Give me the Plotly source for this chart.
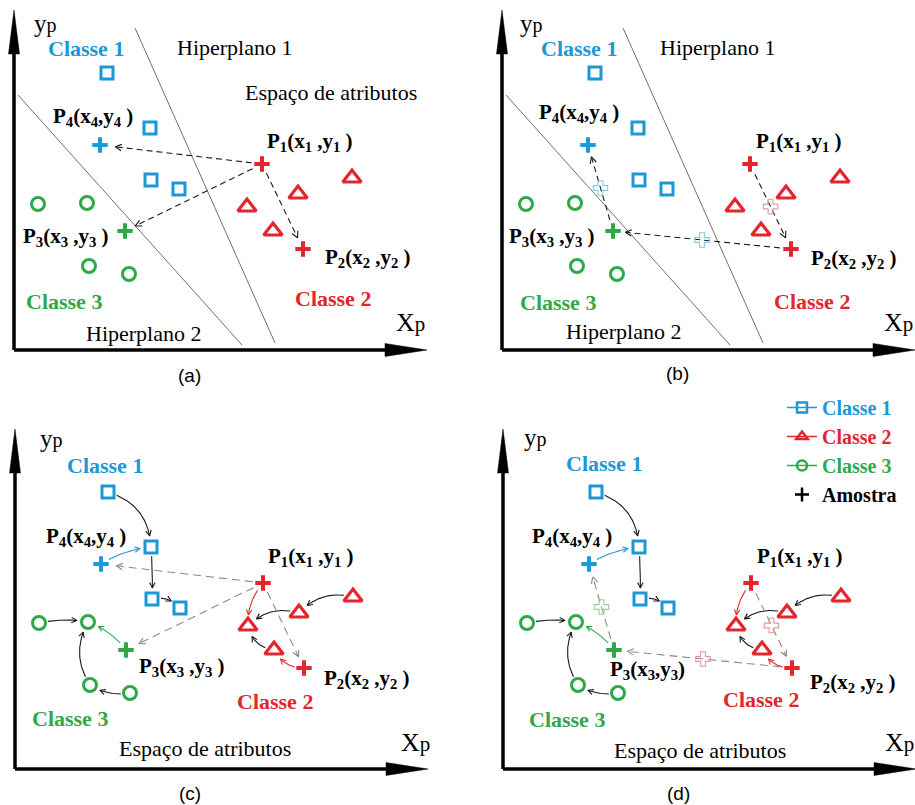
import numpy as np
import plotly.graph_objects as go

W, H = 915, 805

# ---------------- data: positions in the attribute space (x_p, y_p) ----------------
classe1_x = [93, 136, 137, 165]
classe1_y = [277, 222, 170, 161]
classe2_x = [338, 284, 233, 259]
classe2_y = [172, 156, 143, 119]
classe3_x = [24, 73, 75, 115]
classe3_y = [146, 147, 84, 76]

amostra_nomes = ["P1", "P2", "P3", "P4"]
amostra_x = [248, 289, 111, 86]
amostra_y = [186, 101, 119, 205]

hiperplano1_x = [121, 261]
hiperplano1_y = [322, 7]
hiperplano2_x = [4, 228]
hiperplano2_y = [255, 5]

# ---------------- styles ----------------
BLUE, RED, GREEN = "#1b98d5", "#e3262d", "#2fa84a"
BLUE_L, RED_L, GREEN_L = "#86c8ea", "#e79898", "#93d09f"
INK, GRAY = "#1a1a1a", "#8a8a8a"
SERIF, SANS = "Liberation Serif", "Liberation Sans"
EIXO_X, EIXO_Y = 413, 340

# panel frames: pixel box and where the axis origin sits
PANELS = {
    "a": dict(px=(0, 460), py=(0, 400), origin=(14, 350)),
    "b": dict(px=(460, 915), py=(0, 400), origin=(502, 350)),
    "c": dict(px=(0, 460), py=(400, 805), origin=(15, 769)),
    "d": dict(px=(460, 915), py=(400, 805), origin=(503, 769)),
}

fig = go.Figure()
AX = {}
layout_axes = {}
for i, (k, p) in enumerate(PANELS.items(), start=1):
    s = "" if i == 1 else str(i)
    ox, oy = p["origin"]
    x0, x1 = p["px"]
    y0, y1 = p["py"]
    AX[k] = ("x" + s, "y" + s)
    layout_axes["xaxis" + s] = dict(domain=[x0 / W, x1 / W], range=[x0 - ox, x1 - ox],
                                    visible=False, anchor="y" + s, fixedrange=True)
    layout_axes["yaxis" + s] = dict(domain=[(H - y1) / H, (H - y0) / H], range=[oy - y1, oy - y0],
                                    visible=False, anchor="x" + s, fixedrange=True)


def add(k, **kw):
    xa, ya = AX[k]
    kw.setdefault("showlegend", False)
    kw.setdefault("hoverinfo", "skip")
    fig.add_trace(go.Scatter(xaxis=xa, yaxis=ya, **kw))


def texto(k, x, y, s, size=22, color="black", bold=False, family=SERIF):
    xa, ya = AX[k]
    fig.add_annotation(x=x, y=y, xref=xa, yref=ya, text=f"<b>{s}</b>" if bold else s,
                       showarrow=False, xanchor="center", yanchor="middle",
                       font=dict(family=family, size=size, color=color))


def ponto(nome):
    grupo, i = nome
    if grupo == "C1":
        return (classe1_x[i], classe1_y[i])
    if grupo == "C2":
        return (classe2_x[i], classe2_y[i])
    if grupo == "C3":
        return (classe3_x[i], classe3_y[i])
    j = amostra_nomes.index(grupo)
    return (amostra_x[j], amostra_y[j])


def caminho(p0, p1, bend, r0, r1, n=160):
    p0 = np.asarray(p0, float)
    p1 = np.asarray(p1, float)
    d = p1 - p0
    L = np.hypot(*d)
    u = d / L
    c = (p0 + p1) / 2 + bend * L * np.array([-u[1], u[0]])
    t = np.linspace(0, 1, n)[:, None]
    pts = (1 - t) ** 2 * p0 + 2 * (1 - t) * t * c + t ** 2 * p1
    keep = (np.hypot(*(pts - p0).T) >= r0) & (np.hypot(*(pts - p1).T) >= r1)
    return pts[keep]


def ponta(pts, size=7.0, ang=27):
    tip = pts[-1]
    back = pts[max(0, len(pts) - 6)]
    u = (tip - back) / np.hypot(*(tip - back))
    out = []
    for a in (ang, -ang):
        r = np.radians(a)
        v = np.array([u[0] * np.cos(r) - u[1] * np.sin(r), u[0] * np.sin(r) + u[1] * np.cos(r)])
        out.append(tip - size * v)
    return [out[0][0], tip[0], out[1][0]], [out[0][1], tip[1], out[1][1]]


def seta(k, a, b, bend=0.0, color=INK, dash=None, width=1.1, r0=10, r1=12, head=7.0):
    pts = caminho(ponto(a), ponto(b), bend, r0, r1)
    add(k, x=pts[:, 0], y=pts[:, 1], mode="lines",
        line=dict(color=color, width=width, dash=dash or "solid"))
    hx, hy = ponta(pts, head)
    add(k, x=hx, y=hy, mode="lines", line=dict(color=color, width=width))


def meio(k, a, b, color):
    p0, p1 = np.array(ponto(a)), np.array(ponto(b))
    m = (p0 + p1) / 2
    add(k, x=[m[0]], y=[m[1]], mode="markers",
        marker=dict(symbol="cross-open", size=12, color=color, line=dict(width=1.1, color=color)))


def eixos(k):
    add(k, x=[0, 0, None, 0, EIXO_X - 30], y=[EIXO_Y - 30, 0, None, 0, 0], mode="lines",
        line=dict(color="black", width=3.5))
    add(k, x=[-5.5, 0, 5.5, -5.5], y=[EIXO_Y - 44, EIXO_Y, EIXO_Y - 44, EIXO_Y - 44],
        mode="lines", fill="toself", fillcolor="black", line=dict(color="black", width=0.5))
    add(k, x=[EIXO_X - 42, EIXO_X, EIXO_X - 42, EIXO_X - 42], y=[-6.5, 0, 6.5, -6.5],
        mode="lines", fill="toself", fillcolor="black", line=dict(color="black", width=0.5))


def pontos(k):
    add(k, x=classe1_x, y=classe1_y, mode="markers",
        marker=dict(symbol="square-open", size=12, color=BLUE, line=dict(width=3, color=BLUE)))
    add(k, x=classe2_x, y=classe2_y, mode="markers",
        marker=dict(symbol="triangle-up-open", size=16, color=RED, line=dict(width=3.2, color=RED)))
    add(k, x=classe3_x, y=classe3_y, mode="markers",
        marker=dict(symbol="circle-open", size=13, color=GREEN, line=dict(width=3, color=GREEN)))
    cores = [RED, RED, GREEN, BLUE]
    add(k, x=amostra_x, y=amostra_y, mode="markers",
        marker=dict(symbol="cross-thin", size=11, color=cores, line=dict(width=4, color=cores)))


ROT = {
    "P1": "P<sub>1</sub>(x<sub>1</sub> ,y<sub>1</sub> )",
    "P2": "P<sub>2</sub>(x<sub>2</sub> ,y<sub>2</sub> )",
    "P3": "P<sub>3</sub>(x<sub>3</sub> ,y<sub>3</sub> )",
    "P3d": "P<sub>3</sub>(x<sub>3</sub>,y<sub>3</sub>)",
    "P4": "P<sub>4</sub>(x<sub>4</sub>,y<sub>4</sub> )",
}
YP = 'y<span style="font-size:20px">p</span>'
XP = 'X<span style="font-size:21px">p</span>'

# ---------------- (a) and (b): hyperplanes ----------------
for k in ("a", "b"):
    add(k, x=hiperplano1_x, y=hiperplano1_y, mode="lines", line=dict(color="#6f6f6f", width=1))
    add(k, x=hiperplano2_x, y=hiperplano2_y, mode="lines", line=dict(color="#6f6f6f", width=1))

# (a): distances from P1 to the other samples
for alvo, r1 in (("P4", 15), ("P3", 11), ("P2", 12)):
    seta("a", ("P1", 0), (alvo, 0), dash="6px,4px", r0=10, r1=r1)

# (b): chain P1 -> P2 -> P3 -> P4 with intermediate samples
for (a, b), cor in zip([("P1", "P2"), ("P2", "P3"), ("P3", "P4")], [RED_L, BLUE_L, BLUE_L]):
    seta("b", (a, 0), (b, 0), dash="6px,4px", r0=11, r1=12)
    meio("b", (a, 0), (b, 0), cor)

# ---------------- (c) and (d): class structure ----------------
curvas = [
    (("C1", 0), ("C1", 1), 0.35, INK),
    (("C1", 1), ("C1", 2), 0.03, INK),
    (("C1", 2), ("C1", 3), 0.30, INK),
    (("P4", 0), ("C1", 1), 0.12, BLUE),
    (("P1", 0), ("C2", 2), -0.20, RED),
    (("C2", 1), ("C2", 2), -0.30, INK),
    (("C2", 0), ("C2", 1), -0.30, INK),
    (("C2", 3), ("C2", 2), 0.35, INK),
    (("P2", 0), ("C2", 3), 0.30, RED),
    (("C3", 0), ("C3", 1), 0.10, INK),
    (("C3", 2), ("C3", 1), 0.30, INK),
    (("C3", 3), ("C3", 2), 0.20, INK),
    (("P3", 0), ("C3", 1), -0.15, GREEN),
]
for k in ("c", "d"):
    for a, b, bend, cor in curvas:
        seta(k, a, b, bend=bend, color=cor, width=1.1, r0=9, r1=11, head=6)

for alvo, r1 in (("P4", 15), ("P3", 14), ("P2", 12)):
    seta("c", ("P1", 0), (alvo, 0), color=GRAY, dash="8px,5px", r0=10, r1=r1)

for (a, b), cor in zip([("P1", "P2"), ("P2", "P3"), ("P3", "P4")], [RED_L, RED_L, GREEN_L]):
    seta("d", (a, 0), (b, 0), color=GRAY, dash="8px,5px", r0=11, r1=13)
    meio("d", (a, 0), (b, 0), cor)

# ---------------- axes, markers and texts ----------------
for k in PANELS:
    eixos(k)
    pontos(k)

TEXTOS = {
    "a": dict(c1=(72, 302), c2=(319, 52), c3=(50, 49), P1=(296, 208), P2=(354, 92),
              P3=(52, 113), P4=(79, 233), yp=(31, 327), xp=(396, 28), tag=(175, -25)),
    "b": dict(c1=(77, 302), c2=(310, 49), c3=(56, 48), P1=(297, 208), P2=(352, 91),
              P3=(50, 113), P4=(77, 237), yp=(29, 327), xp=(396, 28), tag=(175, -23)),
    "c": dict(c1=(90, 304), c2=(260, 68), c3=(55, 51), P1=(296, 212), P2=(352, 90),
              P3=(167, 102), P4=(71, 232), yp=(36, 331), xp=(400, 27), tag=(175, -24)),
    "d": dict(c1=(101, 306), c2=(258, 70), c3=(64, 50), P1=(297, 212), P2=(350, 86),
              P3=(144, 99), P4=(69, 232), yp=(32, 332), xp=(396, 27), tag=(175, -24)),
}
for k, t in TEXTOS.items():
    texto(k, *t["c1"], "Classe 1", color=BLUE, bold=True)
    texto(k, *t["c2"], "Classe 2", color=RED, bold=True)
    texto(k, *t["c3"], "Classe 3", color=GREEN, bold=True)
    texto(k, *t["P1"], ROT["P1"], size=21, bold=True)
    texto(k, *t["P2"], ROT["P2"], size=21, bold=True)
    texto(k, *t["P3"], ROT["P3d"] if k == "d" else ROT["P3"], size=21, bold=True)
    texto(k, *t["P4"], ROT["P4"], size=21, bold=True)
    texto(k, *t["yp"], YP, size=25)
    texto(k, *t["xp"], XP, size=26)
    texto(k, *t["tag"], f"({k})", size=19, family=SANS)

texto("a", 220, 303, "Hiperplano 1")
texto("b", 215, 303, "Hiperplano 1")
texto("a", 129, 17, "Hiperplano 2")
texto("b", 121, 19, "Hiperplano 2")
texto("a", 317, 258, "Espaço de atributos")
texto("c", 190, 21, "Espaço de atributos")
texto("d", 197, 19, "Espaço de atributos")

# ---------------- legend ----------------
for nome, cor, simb, modo in [("Classe 1", BLUE, "square-open", "lines+markers"),
                              ("Classe 2", RED, "triangle-up-open", "lines+markers"),
                              ("Classe 3", GREEN, "circle-open", "lines+markers"),
                              ("Amostra", "black", "cross-thin", "markers")]:
    add("d", x=[None], y=[None], mode=modo, showlegend=True,
        name=f'<span style="color:{cor}"><b>{nome}</b></span>',
        line=dict(color=cor, width=1.5),
        marker=dict(symbol=simb, size=10, color=cor, line=dict(width=2.5, color=cor)))

fig.update_layout(
    width=W, height=H, margin=dict(l=0, r=0, t=0, b=0),
    paper_bgcolor="white", plot_bgcolor="rgba(0,0,0,0)",
    legend=dict(x=782 / W, y=(H - 388) / H, xanchor="left", yanchor="top",
                bgcolor="rgba(0,0,0,0)", font=dict(family=SERIF, size=20),
                itemwidth=30, tracegroupgap=0),
    **layout_axes,
)

fig.write_html("out.html", config={"displayModeBar": False})
